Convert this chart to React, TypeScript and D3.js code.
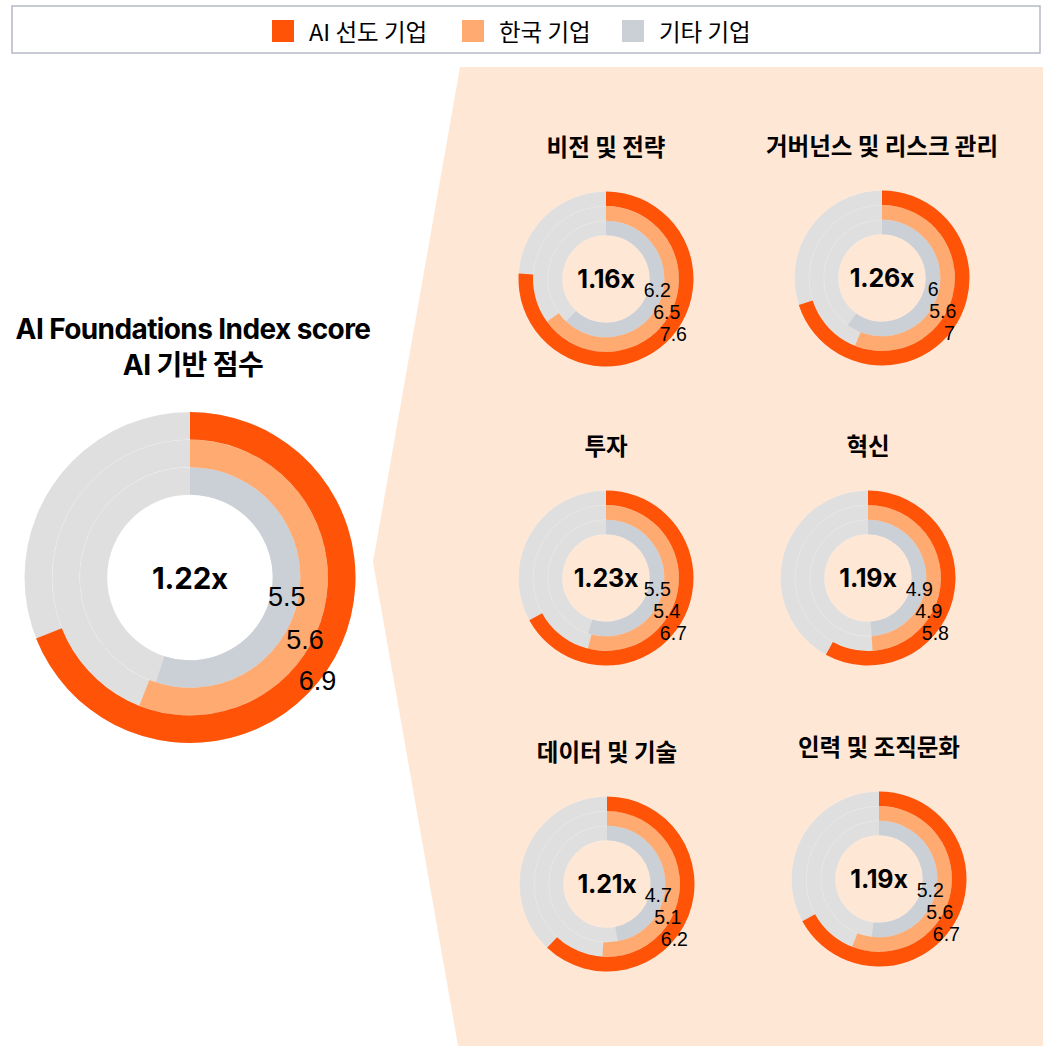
import React from "react";
import * as d3 from "d3";

// series (outer ring -> inner ring)
const seriesNames = ["AI 선도 기업", "한국 기업", "기타 기업"];
const seriesColors = ["#FF5408", "#FFAA70", "#CBD0D7"];
const trackColor = "#DFDFDF";

// overall score
const overallTitle = ["AI Foundations Index score", "AI 기반 점수"];
const overallValues = [6.9, 5.6, 5.5];
const overallRatio = "1.22x";

// sub-categories
const categories = [
  "비전 및 전략",
  "거버넌스 및 리스크 관리",
  "투자",
  "혁신",
  "데이터 및 기술",
  "인력 및 조직문화",
];
const leaderValues = [7.6, 7, 6.7, 5.8, 6.2, 6.7];
const koreaValues = [6.5, 5.6, 5.4, 4.9, 5.1, 5.6];
const otherValues = [6.2, 6, 5.5, 4.9, 4.7, 5.2];
const ratios = ["1.16x", "1.26x", "1.23x", "1.19x", "1.21x", "1.19x"];

const maxScore = 10;

// layout
const W = 1043;
const H = 1046;
const panelCenters = [
  [606, 279],
  [882, 278],
  [606, 578],
  [868, 578],
  [607, 884],
  [879, 879],
];
const legendX = [272, 462, 622];
// label anchors as fraction of radius (inner, middle, outer ring)
const labelAnchors = [
  [0.585, 0.12],
  [0.695, 0.38],
  [0.77, 0.625],
];

const latin = "Inter, 'Noto Sans CJK KR', sans-serif";
const kr = "'Noto Sans CJK KR', 'Noto Sans', sans-serif";
const num = "'Liberation Sans', Arial, sans-serif";

function RadialChart({ cx, cy, R, values, ratio, ratioSize, labelSize }) {
  const angle = d3.scaleLinear().domain([0, maxScore]).range([0, 2 * Math.PI]);
  const inner = R * 0.5;
  const band = (R - inner) / 3;
  // values are [leaders, korea, others]; ring 0 = innermost
  const rings = [values[2], values[1], values[0]].map((v, k) => ({
    v,
    k,
    color: seriesColors[2 - k],
    r0: inner + k * band,
    r1: inner + (k + 1) * band,
  }));
  const arc = d3.arc();
  return (
    <g transform={`translate(${cx},${cy})`}>
      {rings.map((d) => (
        <path
          key={"t" + d.k}
          d={arc({ innerRadius: d.r0, outerRadius: d.r1, startAngle: 0, endAngle: 2 * Math.PI })}
          fill={trackColor}
          stroke="rgba(255,255,255,0.3)"
          strokeWidth={0.4}
        />
      ))}
      {rings.map((d) => (
        <path
          key={"a" + d.k}
          d={arc({ innerRadius: d.r0, outerRadius: d.r1, startAngle: 0, endAngle: angle(d.v) })}
          fill={d.color}
        />
      ))}
      <text
        x={0}
        y={0}
        textAnchor="middle"
        dominantBaseline="central"
        fontFamily={latin}
        fontWeight={700}
        fontSize={ratioSize}
        letterSpacing={-0.2}
        fill="#000"
      >
        {ratio}
      </text>
      {rings.map((d) => (
        <text
          key={"l" + d.k}
          x={labelAnchors[d.k][0] * R}
          y={labelAnchors[d.k][1] * R}
          textAnchor="middle"
          dominantBaseline="central"
          fontFamily={num}
          fontSize={labelSize}
          fill="#000"
        >
          {d.v}
        </text>
      ))}
    </g>
  );
}

export default function App() {
  const bgPoly = [
    [460, 67],
    [W, 67],
    [W, 1057],
    [460, 1057],
    [373, 562],
  ];
  return (
    <svg
      width={W}
      height={H}
      style={{ position: "absolute", left: 0, top: 0, background: "#fff" }}
    >
      {/* legend */}
      <rect x={12} y={6} width={1028} height={47} fill="#fff" stroke="#B5B9C5" strokeWidth={1.5} />
      {seriesNames.map((s, i) => (
        <g key={s}>
          <rect x={legendX[i]} y={20} width={22} height={22} fill={seriesColors[i]} />
          <text
            x={legendX[i] + 37}
            y={31}
            dominantBaseline="central"
            fontFamily={kr}
            fontSize={23.5}
            fill="#000"
          >
            {s}
          </text>
        </g>
      ))}

      {/* peach panel */}
      <polygon points={bgPoly.map((p) => p.join(",")).join(" ")} fill="#FFE7D5" />

      {/* overall */}
      {overallTitle.map((t, i) => (
        <text
          key={t}
          x={193}
          y={329 + i * 36}
          textAnchor="middle"
          dominantBaseline="central"
          fontFamily={latin}
          fontWeight={700}
          fontSize={28}
          letterSpacing={-0.6}
          fill="#000"
        >
          {t}
        </text>
      ))}
      <RadialChart
        cx={190}
        cy={577.5}
        R={165.5}
        values={overallValues}
        ratio={overallRatio}
        ratioSize={29.5}
        labelSize={27}
      />

      {/* categories */}
      {categories.map((c, i) => {
        const [cx, cy] = panelCenters[i];
        return (
          <g key={c}>
            <text
              x={cx}
              y={cy - 133}
              textAnchor="middle"
              dominantBaseline="central"
              fontFamily={kr}
              fontWeight={700}
              fontSize={23.5}
              fill="#000"
            >
              {c}
            </text>
            <RadialChart
              cx={cx}
              cy={cy}
              R={87.5}
              values={[leaderValues[i], koreaValues[i], otherValues[i]]}
              ratio={ratios[i]}
              ratioSize={25}
              labelSize={19.5}
            />
          </g>
        );
      })}
    </svg>
  );
}
